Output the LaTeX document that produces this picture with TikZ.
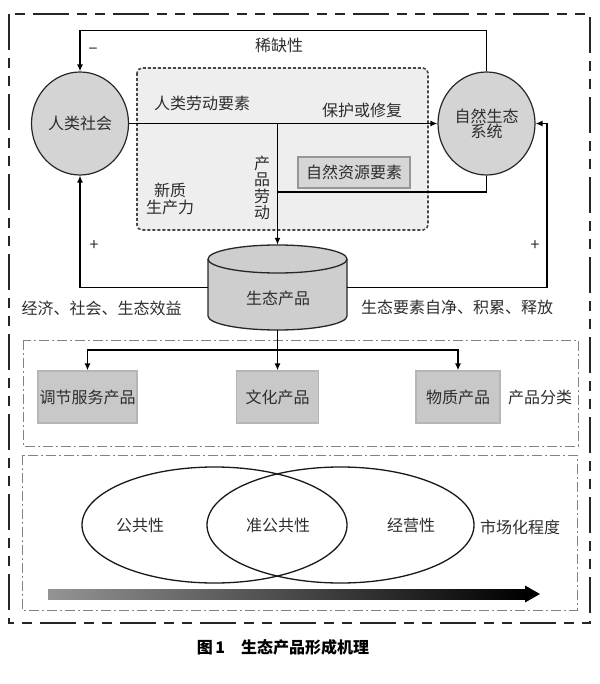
\documentclass[tikz,border=0pt]{standalone}
\usepackage{fontspec}
\newfontfamily\cjk{Noto Sans CJK SC}
\usetikzlibrary{arrows.meta,shapes.geometric}
\definecolor{txt}{RGB}{45,45,45}
\definecolor{circfill}{RGB}{212,212,212}
\definecolor{cylfill}{RGB}{206,206,206}
\definecolor{boxfill}{RGB}{200,200,200}
\definecolor{boxline}{RGB}{182,182,182}
\definecolor{resfill}{RGB}{214,214,214}
\definecolor{resline}{RGB}{150,150,150}
\definecolor{innerfill}{RGB}{238,238,238}
\definecolor{innerline}{RGB}{70,70,70}
\definecolor{ddline}{RGB}{130,130,130}
\begin{document}
\begin{tikzpicture}[x=1pt,y=1pt,
  every node/.style={font=\cjk\fontsize{16}{18}\selectfont, text=txt},
  lbl/.style={inner sep=0pt},
  circnode/.style={ellipse, draw=black!85, line width=1.2pt, fill=circfill,
    minimum width=97pt, minimum height=103pt, inner sep=0pt, align=center},
  prodbox/.style={rectangle, draw=boxline, line width=1.2pt, fill=boxfill,
    minimum height=52pt, inner sep=0pt},
  conn/.style={draw=black, line width=1.4pt},
  arr/.style={conn, -{Latex[length=7pt,width=6pt]}},
  ddbox/.style={draw=ddline, line width=1pt, dash pattern=on 10pt off 3pt on 2pt off 3pt},
]
\useasboundingbox (0,0) rectangle (599,-684);

% outer dashed frame
\draw[black!85, line width=1.8pt, dash pattern=on 36pt off 8pt on 10pt off 8pt on 10pt off 8pt]
  (9,-14) rectangle (590,-623);

% inner dotted rounded region
\draw[fill=innerfill, draw=innerline, line width=1.6pt, dash pattern=on 3pt off 2pt, rounded corners=5pt]
  (137,-68) rectangle (428,-230);

% dash-dot boxes
\draw[ddbox] (23,-340) rectangle (578,-446);
\draw[ddbox] (22,-455) rectangle (577,-610);

% main nodes
\node[circnode] (soc) at (80,-123.5) {人类社会};
\node[circnode] (eco) at (486.5,-123.5) {自然生态\\[-3pt]系统};
\node[rectangle, draw=resline, line width=1.3pt, fill=resfill, minimum width=112pt,
      minimum height=31pt, inner sep=0pt] (res) at (354,-172.5) {自然资源要素};

% cylinder
\fill[cylfill] (208,-259) -- (208,-316)
  arc[start angle=180,end angle=360,x radius=69.5pt,y radius=14pt]
  -- (347,-259)
  arc[start angle=0,end angle=180,x radius=69.5pt,y radius=14pt] -- cycle;
\draw[black!85, line width=1.3pt] (208,-259) -- (208,-316)
  arc[start angle=180,end angle=360,x radius=69.5pt,y radius=14pt]
  -- (347,-259)
  arc[start angle=0,end angle=180,x radius=69.5pt,y radius=14pt];
\draw[black!85, line width=1.3pt] (208,-259)
  arc[start angle=180,end angle=360,x radius=69.5pt,y radius=14pt];
\node[minimum width=139pt, minimum height=85pt, inner sep=0pt] (prod) at (277.5,-287.5) {};
\node[lbl] (prodlbl) at (278,-298) {生态产品};

% product boxes
\node[prodbox, minimum width=99pt] (tj) at (87.5,-397) {调节服务产品};
\node[prodbox, minimum width=82pt] (wh) at (277.5,-397) {文化产品};
\node[prodbox, minimum width=84pt] (wz) at (458,-397) {物质产品};

% connectors
\draw[arr] (eco.north) -- ++(0,41) -| (soc.north);
\draw[arr] (soc.east) -- (eco.west);
\coordinate (j1) at (277.5,-123.5);
\draw[arr] (j1) -- (prod.north);
\coordinate (j2) at (277.5,-192);
\draw[conn] (eco.south) |- (j2);
\draw[arr] (prod.west) -| (soc.south);
\coordinate (rc) at (547,-287.5);
\draw[arr] (prod.east) -- (rc) |- (eco.east);
\draw[arr] (prod.south) -- (wh.north);
\coordinate (br) at (277.5,-350);
\draw[arr] (br) -| (tj.north);
\draw[arr] (br) -| (wz.north);

% labels
\node[lbl] (l1) at (279,-45) {稀缺性};
\node[lbl] (l2) at (93,-51) {−};
\node[lbl] (l3) at (202,-103) {人类劳动要素};
\node[lbl] (l4) at (362,-110) {保护或修复};
\node[lbl, align=center, font=\cjk\fontsize{16}{16.3}\selectfont] (l5) at (262,-188) {产\\品\\劳\\动};
\node[lbl, align=center, font=\cjk\fontsize{16}{17}\selectfont] (l6) at (170,-198.5) {新质\\生产力};
\node[lbl] (l7) at (94,-246) {+};
\node[lbl] (l8) at (535,-246) {+};
\node[lbl] (l9) at (101.5,-308) {经济、社会、生态效益};
\node[lbl] (l10) at (457,-307) {生态要素自净、积累、释放};
\node[lbl] (l11) at (540,-397) {产品分类};

% ellipses
\draw[black!90, line width=1.3pt] (214.5,-525) ellipse[x radius=132.5pt, y radius=58pt];
\draw[black!90, line width=1.3pt] (340.5,-525) ellipse[x radius=133.5pt, y radius=58pt];
\node[lbl] (e1) at (140,-525) {公共性};
\node[lbl] (e2) at (278,-525) {准公共性};
\node[lbl] (e3) at (411,-525) {经营性};
\node[lbl] (e4) at (520,-527) {市场化程度};

% gradient arrow
\shade[left color=black!42, right color=black] (48,-589) rectangle (526,-599);
\fill[black] (525,-585.5) -- (540,-594) -- (525,-602.5) -- cycle;

% caption
\node[lbl, font=\cjk\bfseries\fontsize{16}{18}\selectfont, text=black] (cap) at (283,-647) {图\,1\quad 生态产品形成机理};
\end{tikzpicture}
\end{document}
